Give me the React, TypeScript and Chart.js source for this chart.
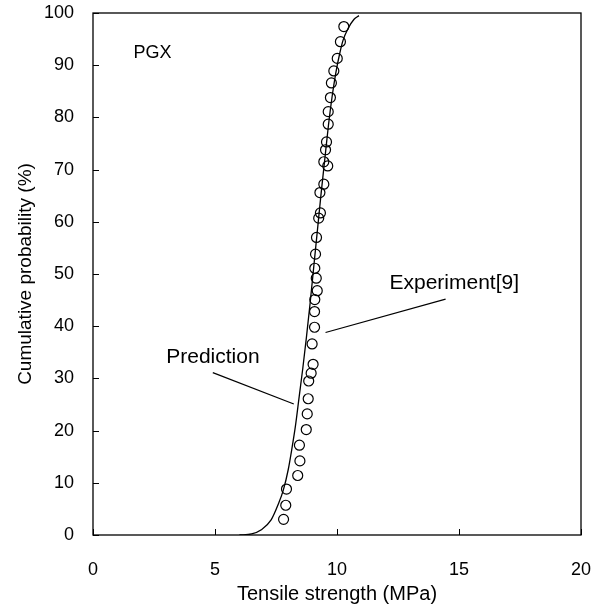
import React, { useEffect, useRef } from "react";
import { Chart, registerables } from "chart.js";

Chart.register(...registerables);

// Axis ticks
const xTickValues = [0, 5, 10, 15, 20];
const yTickValues = [0, 10, 20, 30, 40, 50, 60, 70, 80, 90, 100];

// Prediction curve
const predictionX = [6.0, 6.5, 6.9, 7.3, 7.6, 7.8, 8.0, 8.15, 8.3, 8.45, 8.6, 8.75, 8.9, 9.05, 9.2, 9.35, 9.5, 9.65, 9.8, 9.95, 10.1, 10.25, 10.45, 10.7, 10.9];
const predictionY = [0, 0.2, 1.0, 2.9, 6.0, 8.6, 12.5, 16.5, 21, 26.5, 32, 38, 44.5, 51.5, 58.5, 65.5, 72, 78.5, 84, 88.5, 92, 94.8, 97, 98.8, 99.5];

// Experiment points
const experimentX = [10.28, 10.14, 10.01, 9.87, 9.77, 9.73, 9.64, 9.64, 9.57, 9.53, 9.46, 9.62, 9.46, 9.30, 9.32, 9.25, 9.16, 9.12, 9.09, 9.15, 9.19, 9.09, 9.08, 9.08, 8.98, 9.02, 8.94, 8.84, 8.82, 8.78, 8.74, 8.46, 8.48, 8.39, 7.93, 7.90, 7.81];
const experimentY = [97.4, 94.5, 91.3, 88.9, 86.6, 83.8, 81.1, 78.7, 75.3, 73.8, 71.5, 70.7, 67.2, 65.6, 61.7, 60.7, 57.0, 53.8, 51.1, 49.2, 46.8, 45.1, 42.8, 39.8, 36.6, 32.7, 31.0, 29.5, 26.1, 23.2, 20.2, 17.2, 14.2, 11.4, 8.8, 5.7, 3.0];

// Leader lines
const expLeaderX = [9.53, 14.45];
const expLeaderY = [38.8, 45.2];
const predLeaderX = [4.91, 8.23];
const predLeaderY = [31.1, 25.1];

// Text labels (data coordinates, left aligned)
const labelTexts = ["PGX", "Prediction", "Experiment[9]"];
const labelX = [1.66, 3.0, 12.15];
const labelY = [92.3, 34.1, 48.3];
const labelSizes = [18, 21, 21];

const FONT = "'Liberation Sans', Arial, Helvetica, sans-serif";

const toPoints = (xs: number[], ys: number[]) => xs.map((x, i) => ({ x, y: ys[i] }));

const framePlugin = {
  id: "frame",
  afterDraw(chart: any) {
    const { ctx, chartArea } = chart;
    const xs = chart.scales.x;
    const ys = chart.scales.y;
    ctx.save();
    ctx.strokeStyle = "#000";
    ctx.lineWidth = 1.3;
    ctx.strokeRect(chartArea.left, chartArea.top, chartArea.right - chartArea.left, chartArea.bottom - chartArea.top);
    const len = 6;
    ctx.lineWidth = 1;
    ctx.beginPath();
    xTickValues.forEach((v) => {
      const px = Math.round(xs.getPixelForValue(v)) + 0.5;
      ctx.moveTo(px, chartArea.bottom);
      ctx.lineTo(px, chartArea.bottom - len);
    });
    yTickValues.forEach((v) => {
      const py = Math.round(ys.getPixelForValue(v)) + 0.5;
      ctx.moveTo(chartArea.left, py);
      ctx.lineTo(chartArea.left + len, py);
    });
    ctx.stroke();
    ctx.fillStyle = "#000";
    ctx.textAlign = "left";
    ctx.textBaseline = "middle";
    labelTexts.forEach((t, i) => {
      ctx.font = `${labelSizes[i]}px ${FONT}`;
      ctx.fillText(t, xs.getPixelForValue(labelX[i]), ys.getPixelForValue(labelY[i]));
    });
    ctx.restore();
  },
};

const zeroPadding = (s: any) => {
  s.paddingTop = 0;
  s.paddingBottom = 0;
  s.paddingLeft = 0;
  s.paddingRight = 0;
};

export default function App() {
  const ref = useRef<HTMLCanvasElement | null>(null);
  useEffect(() => {
    document.body.style.margin = "0";
    const canvas = ref.current;
    if (!canvas) return;
    const lineDs = (xs: number[], ys: number[], w: number) => ({
      type: "line" as const,
      data: toPoints(xs, ys),
      borderColor: "#000",
      borderWidth: w,
      pointRadius: 0,
      fill: false,
      showLine: true,
    });
    const chart = new Chart(canvas, {
      type: "scatter",
      data: {
        datasets: [
          {
            label: "Experiment[9]",
            data: toPoints(experimentX, experimentY),
            pointStyle: "circle",
            pointRadius: 5,
            pointBorderWidth: 1.2,
            pointBorderColor: "#000",
            pointBackgroundColor: "rgba(0,0,0,0)",
            showLine: false,
          } as any,
          { ...lineDs(predictionX, predictionY, 1.3), label: "Prediction", cubicInterpolationMode: "monotone" } as any,
          { ...lineDs(expLeaderX, expLeaderY, 1.2), label: "lead1" } as any,
          { ...lineDs(predLeaderX, predLeaderY, 1.2), label: "lead2" } as any,
        ],
      },
      options: {
        responsive: false,
        animation: false,
        devicePixelRatio: 1,
        layout: { padding: { top: 13, right: 21, left: 0, bottom: 0 } },
        plugins: { legend: { display: false }, tooltip: { enabled: false } },
        scales: {
          x: {
            type: "linear",
            min: 0,
            max: 20,
            afterBuildTicks: (s: any) => {
              s.ticks = xTickValues.map((v) => ({ value: v }));
            },
            afterFit: (s: any) => {
              s.height = 75;
              zeroPadding(s);
            },
            grid: { display: false, drawTicks: false },
            border: { display: false },
            ticks: { color: "#000", font: { family: FONT, size: 18 }, padding: 24, maxRotation: 0 },
            title: { display: true, text: "Tensile strength (MPa)", color: "#000", font: { family: FONT, size: 20 }, padding: { top: 0, bottom: 4 } },
          },
          y: {
            type: "linear",
            min: 0,
            max: 100,
            afterBuildTicks: (s: any) => {
              s.ticks = yTickValues.map((v) => ({ value: v }));
            },
            afterFit: (s: any) => {
              s.width = 93;
              zeroPadding(s);
            },
            grid: { display: false, drawTicks: false },
            border: { display: false },
            ticks: { color: "#000", font: { family: FONT, size: 18 }, padding: 19 },
            title: { display: true, text: "Cumulative probability (%)", color: "#000", font: { family: FONT, size: 19 }, padding: { top: 14, bottom: 0 } },
          },
        },
      } as any,
      plugins: [framePlugin],
    });
    return () => chart.destroy();
  }, []);
  return (
    <div style={{ width: 602, height: 610 }}>
      <canvas ref={ref} width={602} height={610} style={{ width: 602, height: 610, display: "block" }} />
    </div>
  );
}
